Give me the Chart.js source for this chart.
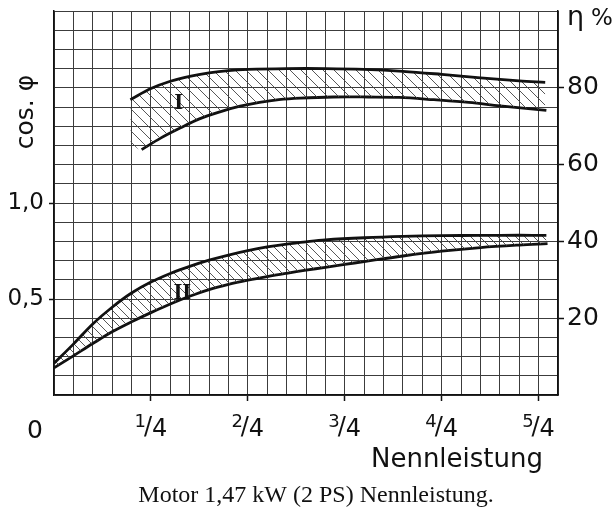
<!DOCTYPE html>
<html>
<head>
<meta charset="utf-8">
<script src="https://cdn.jsdelivr.net/npm/chart.js@4.4.1/dist/chart.umd.min.js"></script>
<style>
  html, body { margin: 0; padding: 0; background: #fff; }
  #wrap { width: 614px; height: 510px; position: relative; }
</style>
</head>
<body>
<div id="wrap"><canvas id="chart"></canvas></div>
<script>
// ===== DATA =====
// x = Nennleistung (fraction of rated load), band I = eta %, band II = cos phi
const bandIUpperLoad = [0.197, 0.25, 0.30, 0.35, 0.40, 0.45, 0.50, 0.60, 0.70, 0.80, 0.90, 1.00, 1.10, 1.20, 1.267];
const bandIUpperEta  = [76.9, 79.8, 81.7, 83.0, 83.9, 84.5, 84.8, 85.0, 85.0, 84.8, 84.3, 83.5, 82.6, 81.8, 81.4];

const bandILowerLoad = [0.226, 0.275, 0.325, 0.375, 0.43, 0.48, 0.53, 0.58, 0.635, 0.72, 0.81, 0.89, 0.98, 1.07, 1.15, 1.27];
const bandILowerEta  = [63.9, 66.9, 69.5, 71.9, 73.8, 75.2, 76.2, 76.9, 77.3, 77.6, 77.6, 77.5, 76.9, 76.2, 75.3, 74.1];

// left end of the hatching of band I (it starts before the lower curve)
const bandIHatchStartLoad = 0.197;
const bandIHatchStartEta  = 65.7;

const bandIIUpperLoad = [0, 0.05, 0.10, 0.15, 0.20, 0.25, 0.30, 0.35, 0.40, 0.45, 0.50, 0.55, 0.60, 0.65, 0.70, 0.80, 0.90, 1.00, 1.10, 1.20, 1.27];
const bandIIUpperCos  = [0.165, 0.265, 0.370, 0.457, 0.531, 0.588, 0.633, 0.670, 0.702, 0.729, 0.752, 0.771, 0.786, 0.798, 0.808, 0.819, 0.826, 0.830, 0.831, 0.832, 0.831];

const bandIILowerLoad = [0, 0.05, 0.10, 0.15, 0.20, 0.25, 0.30, 0.35, 0.40, 0.45, 0.50, 0.55, 0.60, 0.65, 0.70, 0.75, 0.80, 0.90, 1.00, 1.10, 1.20, 1.273];
const bandIILowerCos  = [0.141, 0.204, 0.268, 0.329, 0.381, 0.429, 0.474, 0.514, 0.549, 0.576, 0.598, 0.617, 0.634, 0.650, 0.665, 0.680, 0.695, 0.724, 0.749, 0.768, 0.781, 0.788];

// band names, placed in eta units
const bandNames    = ["I", "II"];
const bandNameLoad = [0.322, 0.331];
const bandNameEta  = [76.0, 26.5];

// ticks
const loadTickVals = [0.25, 0.5, 0.75, 1.0, 1.25];
const loadTickNum  = ["1", "2", "3", "4", "5"];
const loadTickDen  = "4";
const cosTickVals  = [0.5, 1.0];
const cosTickText  = ["0,5", "1,0"];
const etaTickVals  = [20, 40, 60, 80];

// ===== STYLE =====
const ink = "#111";
const gridColor = "#3c3c3c";
const clear = "rgba(0,0,0,0)";
const sans = "'DejaVu Sans', sans-serif";
const serif = "'Liberation Serif', serif";

const near = (a, b) => Math.abs(a - b) < 1e-6;
const hasTick = (vals, v) => vals.some(t => near(t, v));
const toPts = (xs, ys) => xs.map((x, i) => ({ x: x, y: ys[i] }));

// diagonal hatching for the bands
function makeHatch(n) {
  const c = document.createElement("canvas");
  c.width = n;
  c.height = n;
  const g = c.getContext("2d");
  g.strokeStyle = "#444";
  g.lineWidth = 0.9;
  g.beginPath();
  g.moveTo(0, 0); g.lineTo(n, n);
  g.moveTo(-1, n - 1); g.lineTo(1, n + 1);
  g.moveTo(n - 1, -1); g.lineTo(n + 1, 1);
  g.stroke();
  return g.createPattern(c, "repeat");
}
const hatchI = makeHatch(11);
const hatchII = makeHatch(9);

// ===== TEXT ON THE PAPER =====
const paperText = {
  id: "paperText",
  afterDraw(chart) {
    const g = chart.ctx;
    const x = chart.scales.x;
    const yEta = chart.scales.yEta;
    const area = chart.chartArea;
    const base = x.top;
    g.save();
    g.fillStyle = ink;
    g.textBaseline = "alphabetic";

    // fractions 1/4 ... 5/4
    loadTickVals.forEach((v, i) => {
      const c = x.getPixelForValue(v);
      g.font = "18px " + sans;
      g.textAlign = "right";
      g.fillText(loadTickNum[i], c - 5, base + 32);
      g.font = "24px " + sans;
      g.textAlign = "center";
      g.fillText("/", c - 3, base + 39);
      g.textAlign = "left";
      g.fillText(loadTickDen, c + 1, base + 41);
    });

    // common zero
    g.font = "25px " + sans;
    g.textAlign = "center";
    g.fillText("0", x.getPixelForValue(0) - 19, base + 43);

    // axis names
    g.font = "26px " + sans;
    g.textAlign = "right";
    g.fillText("Nennleistung", area.right - 15, base + 72);

    g.font = "27px " + sans;
    g.textAlign = "left";
    g.fillText("η", area.right + 9, 25);
    g.font = "23px " + sans;
    g.fillText("%", area.right + 33, 25);

    g.save();
    g.translate(33, 112);
    g.rotate(-Math.PI / 2);
    g.font = "25px " + sans;
    g.textAlign = "center";
    g.fillText("cos. φ", 0, 0);
    g.restore();

    // band names
    g.font = "bold 23px " + serif;
    g.textAlign = "center";
    g.textBaseline = "middle";
    bandNames.forEach((n, i) => {
      g.fillText(n, x.getPixelForValue(bandNameLoad[i]), yEta.getPixelForValue(bandNameEta[i]));
    });

    // caption
    g.font = "24px " + serif;
    g.textAlign = "center";
    g.textBaseline = "alphabetic";
    g.fillText("Motor 1,47 kW (2 PS) Nennleistung.", 316, 502);
    g.restore();
  }
};

// ===== CHART =====
const ctx = document.getElementById("chart").getContext("2d");

const chart = new Chart(ctx, {
  type: "line",
  data: {
    datasets: [
      {
        data: toPts(bandIUpperLoad, bandIUpperEta),
        yAxisID: "yEta",
        fill: "+1",
        backgroundColor: hatchI
      },
      {
        // hidden edge of the hatching: lower curve plus its left closing point
        data: toPts([bandIHatchStartLoad].concat(bandILowerLoad), [bandIHatchStartEta].concat(bandILowerEta)),
        yAxisID: "yEta",
        fill: false,
        borderWidth: 0,
        borderColor: clear
      },
      {
        data: toPts(bandILowerLoad, bandILowerEta),
        yAxisID: "yEta",
        fill: false
      },
      {
        data: toPts(bandIIUpperLoad, bandIIUpperCos),
        yAxisID: "yCos",
        fill: "+1",
        backgroundColor: hatchII
      },
      {
        data: toPts(bandIILowerLoad, bandIILowerCos),
        yAxisID: "yCos",
        fill: false
      }
    ]
  },
  options: {
    responsive: true,
    maintainAspectRatio: false,
    animation: false,
    devicePixelRatio: 1,
    layout: { padding: { top: 11 } },
    plugins: {
      legend: { display: false },
      tooltip: { enabled: false }
    },
    elements: {
      point: { radius: 0 },
      line: { borderWidth: 2.8, borderColor: ink, tension: 0.35 }
    },
    scales: {
      x: {
        type: "linear",
        min: 0,
        max: 1.3,
        ticks: { stepSize: 0.05, display: false, autoSkip: false },
        grid: {
          color: gridColor,
          lineWidth: 1,
          tickLength: 6,
          tickWidth: 1.5,
          tickColor: c => hasTick(loadTickVals, c.tick.value) ? ink : clear
        },
        border: { color: ink, width: 1.5 },
        afterFit: s => { s.height = 115; s.paddingLeft = 0; s.paddingRight = 0; }
      },
      yCos: {
        position: "left",
        min: 0,
        max: 2,
        ticks: {
          stepSize: 0.1,
          autoSkip: false,
          padding: 5,
          color: ink,
          font: { family: sans, size: 23 },
          callback: v => {
            const i = cosTickVals.findIndex(t => near(t, v));
            return i >= 0 ? cosTickText[i] : "";
          }
        },
        grid: {
          color: gridColor,
          lineWidth: 1,
          tickLength: 5,
          tickWidth: 1.5,
          tickColor: c => hasTick(cosTickVals, c.tick.value) ? ink : clear
        },
        border: { color: ink, width: 1.5 },
        afterFit: s => { s.width = 54; s.paddingTop = 0; s.paddingBottom = 0; }
      },
      yEta: {
        position: "right",
        min: 0,
        max: 100,
        ticks: {
          stepSize: 5,
          autoSkip: false,
          padding: 3,
          color: ink,
          font: { family: sans, size: 25 },
          callback: v => hasTick(etaTickVals, v) ? String(v) : ""
        },
        grid: {
          drawOnChartArea: false,
          tickLength: 6,
          tickWidth: 1.5,
          tickColor: c => hasTick(etaTickVals, c.tick.value) ? ink : clear
        },
        border: { color: ink, width: 1.5 },
        afterFit: s => { s.width = 56; s.paddingTop = 0; s.paddingBottom = 0; }
      }
    }
  },
  plugins: [paperText]
});
</script>
</body>
</html>
